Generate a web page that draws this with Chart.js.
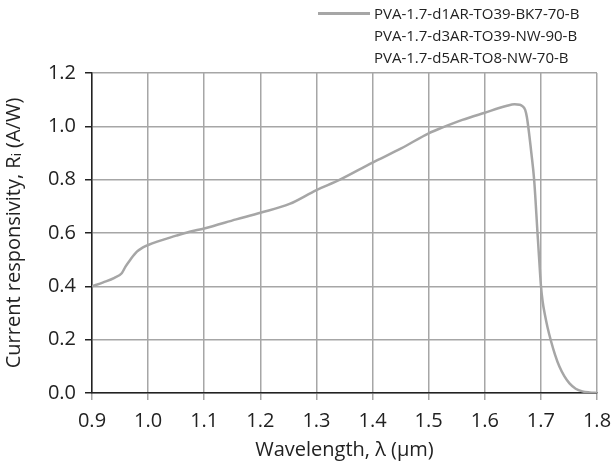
<!DOCTYPE html>
<html>
<head>
<meta charset="utf-8">
<script src="https://cdn.jsdelivr.net/npm/chart.js@4"></script>
<style>
  html, body { margin: 0; padding: 0; background: #fff; }
  #wrap { position: relative; width: 614px; height: 473px; }
  #legend { position: absolute; left: 318px; top: 2px; font-family: "Open Sans", sans-serif; font-size: 15px; color: #222; line-height: 22px; }
  #legend .row { position: relative; padding-left: 56px; white-space: nowrap; }
  #legend .swatch { position: absolute; left: 0; top: 10px; width: 52px; height: 2.5px; }
</style>
</head>
<body>
<div id="wrap">
  <canvas id="chart" width="614" height="473"></canvas>
  <div id="legend"></div>
</div>
<script>
// wavelength (um) and responsivity (A/W)
const wavelength = [0.90, 0.92, 0.94, 0.953, 0.96, 0.968, 0.98, 0.99, 1.00, 1.05, 1.074, 1.10,
    1.157, 1.20, 1.252, 1.30, 1.341, 1.40, 1.451, 1.50, 1.525, 1.56, 1.60, 1.638, 1.653,
    1.662, 1.667, 1.672, 1.675, 1.678, 1.683, 1.688, 1.694, 1.697, 1.700, 1.703, 1.707, 1.712, 1.718, 1.725,
    1.733, 1.742, 1.751, 1.762, 1.774, 1.787, 1.80];
const responsivity = [0.400, 0.415, 0.432, 0.449, 0.475, 0.499, 0.530, 0.545, 0.555, 0.590, 0.605, 0.617,
    0.651, 0.676, 0.709, 0.761, 0.799, 0.864, 0.917, 0.974, 0.996, 1.024, 1.051, 1.076, 1.083,
    1.081, 1.076, 1.062, 1.035, 0.990, 0.900, 0.799, 0.599, 0.500, 0.405, 0.345, 0.295, 0.245, 0.195, 0.145,
    0.099, 0.062, 0.036, 0.016, 0.006, 0.002, 0.0];

const seriesNames = ['PVA-1.7-d1AR-TO39-BK7-70-B', 'PVA-1.7-d3AR-TO39-NW-90-B', 'PVA-1.7-d5AR-TO8-NW-70-B'];
const seriesColors = ['#a6a6a6', 'transparent', 'transparent'];

const xTicks = [0.9, 1.0, 1.1, 1.2, 1.3, 1.4, 1.5, 1.6, 1.7, 1.8];
const yTicks = [0.0, 0.2, 0.4, 0.6, 0.8, 1.0, 1.2];

const font = "'Open Sans', sans-serif";

// only the first series has data in the picture
const datasets = seriesNames.map(function(name, i) {
    return {
        label: name,
        data: i === 0 ? wavelength.map(function(w, j) { return { x: w, y: responsivity[j] }; }) : [],
        borderColor: seriesColors[i],
        borderWidth: 2.5,
        pointRadius: 0,
        showLine: true,
        cubicInterpolationMode: 'monotone'
    };
});

// legend as plain html
const legend = document.getElementById('legend');
seriesNames.forEach(function(name, i) {
    const row = document.createElement('div');
    row.className = 'row';
    row.innerHTML = '<span class="swatch" style="background:' + seriesColors[i] + '"></span>' + name;
    legend.appendChild(row);
});

new Chart(document.getElementById('chart'), {
    type: 'scatter',
    data: { datasets: datasets },
    options: {
        responsive: false,
        animation: false,
        layout: { padding: { top: 73, right: 0, left: 0, bottom: 0 } },
        plugins: { legend: { display: false }, tooltip: { enabled: false } },
        scales: {
            x: {
                type: 'linear',
                min: xTicks[0],
                max: xTicks[xTicks.length - 1],
                afterBuildTicks: function(scale) { scale.ticks = xTicks.map(function(v) { return { value: v }; }); },
                afterFit: function(scale) {
                    scale.height = 80;
                    scale.paddingRight = 17; // keep the 1.8 line near the right edge
                },
                ticks: {
                    font: { family: font, size: 20 },
                    color: '#222',
                    padding: 9,
                    maxRotation: 0,
                    callback: function(v) { return v.toFixed(1); }
                },
                grid: { color: '#a6a6a6', lineWidth: 1.5, tickLength: 7, tickColor: '#a6a6a6' },
                border: { color: '#222', width: 1.5 },
                title: { display: true, text: 'Wavelength, λ (μm)', font: { family: font, size: 20 }, color: '#222', padding: { top: 4, bottom: 11 } }
            },
            y: {
                min: yTicks[0],
                max: yTicks[yTicks.length - 1],
                afterBuildTicks: function(scale) { scale.ticks = yTicks.map(function(v) { return { value: v }; }); },
                afterFit: function(scale) { scale.width = 92; },
                ticks: {
                    font: { family: font, size: 20 },
                    color: '#222',
                    padding: 9,
                    callback: function(v) { return v.toFixed(1); }
                },
                grid: { color: '#a6a6a6', lineWidth: 1.5, tickLength: 7, tickColor: '#222' },
                border: { color: '#222', width: 1.5 },
                title: { display: true, text: 'Current responsivity, Rᵢ (A/W)', font: { family: font, size: 20 }, color: '#222', padding: { top: 2, bottom: 2 } }
            }
        }
    }
});
</script>
</body>
</html>
